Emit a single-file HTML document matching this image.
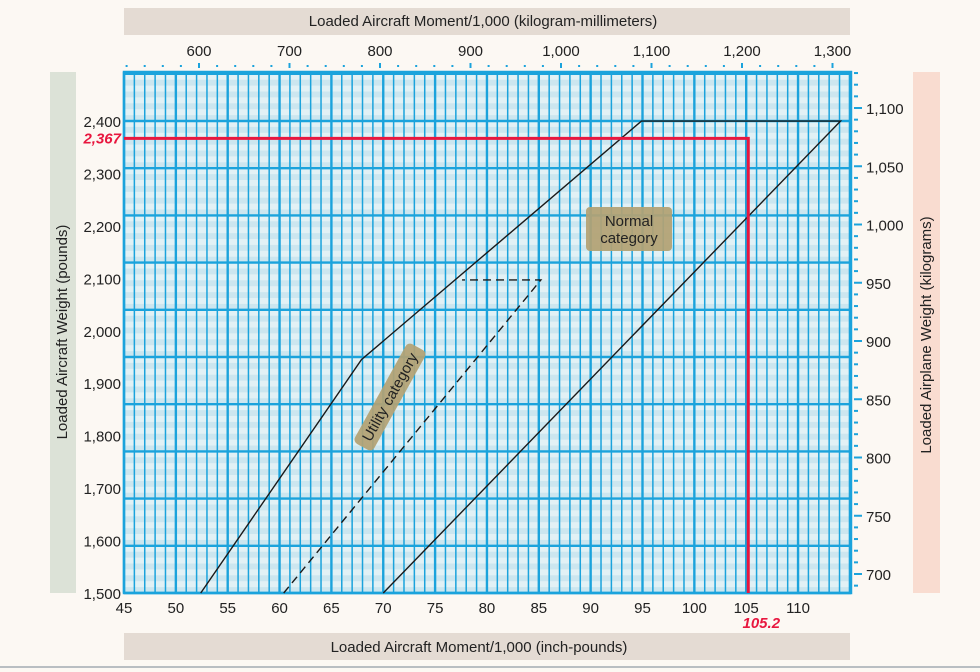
<!DOCTYPE html>
<html><head><meta charset="utf-8"><style>
body{margin:0;background:#fcf8f3;}
svg{display:block;font-family:"Liberation Sans",sans-serif;}
</style></head><body>
<svg id="c" width="980" height="672" viewBox="0 0 980 672" xmlns="http://www.w3.org/2000/svg">
<rect x="0" y="0" width="980" height="672" fill="#fcf8f3"/>
<line x1="0" y1="667" x2="980" y2="667" stroke="#b9bec2" stroke-width="2"/>
<rect x="124" y="8" width="726" height="27" fill="#e4dbd3"/>
<text x="483" y="26" font-size="15" text-anchor="middle" fill="#222">Loaded Aircraft Moment/1,000 (kilogram-millimeters)</text>
<rect x="124" y="633" width="726" height="27" fill="#e4dbd3"/>
<text x="479" y="652" font-size="15" text-anchor="middle" fill="#222">Loaded Aircraft Moment/1,000 (inch-pounds)</text>
<rect x="50" y="72" width="26" height="521" fill="#dce2d7"/>
<text transform="translate(67,332) rotate(-90)" font-size="15" text-anchor="middle" fill="#222">Loaded  Aircraft Weight (pounds)</text>
<rect x="913" y="72" width="27" height="521" fill="#f9dcd0"/>
<text transform="translate(931,335) rotate(-90)" font-size="15" text-anchor="middle" fill="#222">Loaded Airplane Weight (kilograms)</text>
<g id="grid"></g>
<g id="marks"></g>
<g id="axes"></g>
</svg>
<script>
const xTicks=[45,50,55,60,65,70,75,80,85,90,95,100,105,110];
const yTicks=[1500,1600,1700,1800,1900,2000,2100,2200,2300,2400];
const kgmmTicks=[600,700,800,900,1000,1100,1200,1300];
const kgTicks=[700,750,800,850,900,950,1000,1050,1100];
const envMoment=[52.4,67.9,94.9,114.1,70.0];
const envWeight=[1500,1945,2400,2400,1500];
const utilMoment=[60.4,85.2,77.6];
const utilWeight=[1500,2097,2097];
const loadedWeight=2367;
const loadedMoment=105.2;

const L=124,R=851,T=72,B=593;
const X=v=>L+(v-45)*10.37;
const Y=v=>B-(v-1500)*0.5244;
const XKM=v=>199+(v-600)*0.905;
const YKG=v=>574-(v-700)*1.165;
const NS="http://www.w3.org/2000/svg";
function mk(p,tag,a){const e=document.createElementNS(NS,tag);for(const k in a)e.setAttribute(k,a[k]);p.appendChild(e);return e;}
const g=document.getElementById('grid'),m=document.getElementById('marks'),ax=document.getElementById('axes');

let bg=mk(g,'rect',{x:L,y:T,width:R-L,height:B-T,fill:'#e2f1f5'});


const step=47.2;
for(let yy=B;yy>T;yy-=step/4){
  const h=Math.min(step/8,yy-T);
  const b=mk(g,'rect',{x:L,y:yy-h,width:R-L,height:h,fill:'#cce6ef'});
  
  
}
for(let u=45;u<=115;u++){
  const xx=X(u);if(xx>R)break;
  const major=(u%5===0);
  const l=mk(g,'line',{x1:xx,y1:T,x2:xx,y2:B,stroke:'#1ba3dc','stroke-width':major?2.4:1.5});
  
  
}
for(let yy=B;yy>=T;yy-=step){
  const l=mk(g,'line',{x1:L,y1:yy,x2:R,y2:yy,stroke:'#1ba3dc','stroke-width':2.4});
  
  
}
const fr=mk(g,'rect',{x:L,y:T,width:R-L,height:B-T,fill:'none',stroke:'#1ba3dc','stroke-width':2.5});



let pts=envMoment.map((v,i)=>X(v)+','+Y(envWeight[i])).join(' ');
let env=mk(m,'polyline',{points:pts,fill:'none',stroke:'#1a1a1a','stroke-width':1.4});


pts=utilMoment.map((v,i)=>X(v)+','+Y(utilWeight[i])).join(' ');
let ut=mk(m,'polyline',{points:pts,fill:'none',stroke:'#1a1a1a','stroke-width':1.4,'stroke-dasharray':'8,5'});


let rl=mk(m,'polyline',{points:`${L},${Y(loadedWeight)} ${X(loadedMoment)},${Y(loadedWeight)} ${X(loadedMoment)},${B}`,fill:'none',stroke:'#e8173f','stroke-width':3});


let t=mk(ax,'text',{x:121,y:Y(loadedWeight)+5,'font-size':15,'font-weight':'bold','font-style':'italic','text-anchor':'end',fill:'#e8173f'});
t.textContent=loadedWeight.toLocaleString('en-US');


t=mk(ax,'text',{x:X(loadedMoment)+13,y:628,'font-size':15,'font-weight':'bold','font-style':'italic','text-anchor':'middle',fill:'#e8173f'});
t.textContent=loadedMoment.toFixed(1);



let nb=mk(m,'rect',{x:586,y:207,width:86,height:44,rx:4,fill:'#b3a173',opacity:0.93});


t=mk(m,'text',{x:629,y:226,'font-size':15,'text-anchor':'middle',fill:'#222'});t.textContent='Normal';


t=mk(m,'text',{x:629,y:243,'font-size':15,'text-anchor':'middle',fill:'#222'});t.textContent='category';


const ug=mk(m,'g',{transform:'translate(390,397) rotate(-61)'});


let ub=mk(ug,'rect',{x:-57,y:-11,width:114,height:22,rx:5,fill:'#b3a173',opacity:0.93});


t=mk(ug,'text',{x:0,y:5,'font-size':15,'text-anchor':'middle',fill:'#222'});t.textContent='Utility category';



xTicks.forEach(v=>{const e=mk(ax,'text',{x:X(v),y:613,'font-size':15,'text-anchor':'middle',fill:'#222'});e.textContent=v;

});
yTicks.forEach(v=>{const e=mk(ax,'text',{x:121,y:Y(v)+6,'font-size':15,'text-anchor':'end',fill:'#222'});e.textContent=v.toLocaleString('en-US');

});
kgmmTicks.forEach(v=>{const e=mk(ax,'text',{x:XKM(v),y:56,'font-size':15,'text-anchor':'middle',fill:'#222'});e.textContent=v.toLocaleString('en-US');

});
for(let v=520;v<=1310;v+=20){const xx=XKM(v);if(xx<L||xx>R)continue;const maj=v%100===0;
const e=mk(ax,'line',{x1:xx,y1:maj?63:65,x2:xx,y2:maj?68:67,stroke:'#1ba3dc','stroke-width':2});

}
kgTicks.forEach(v=>{const e=mk(ax,'text',{x:866,y:YKG(v)+6,'font-size':15,fill:'#222'});e.textContent=v.toLocaleString('en-US');

});
for(let v=680;v<=1140;v+=10){const yy=YKG(v);if(yy<T||yy>B)continue;const maj=v%50===0;
const e=mk(ax,'line',{x1:854,y1:yy,x2:maj?862:858,y2:yy,stroke:'#1ba3dc','stroke-width':2});

}
</script>
</body></html>
